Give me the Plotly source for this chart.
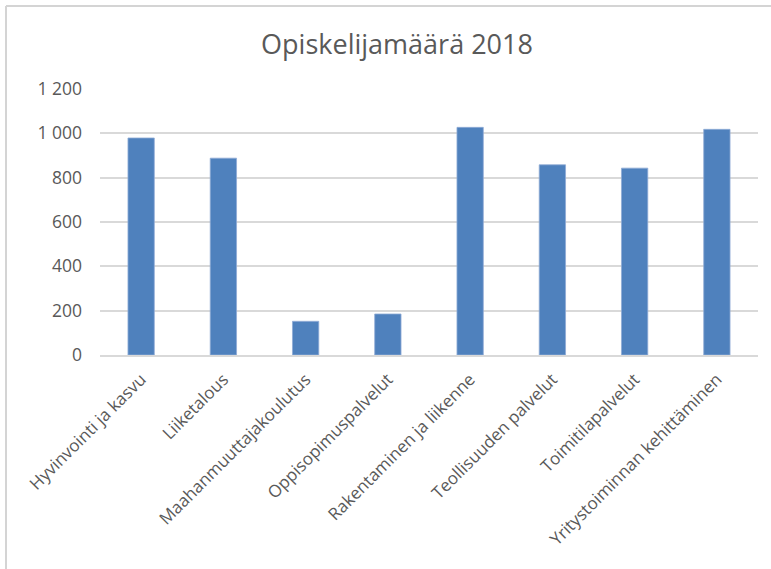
import plotly.graph_objects as go

categories = [
    "Hyvinvointi ja kasvu",
    "Liiketalous",
    "Maahanmuuttajakoulutus",
    "Oppisopimuspalvelut",
    "Rakentaminen ja liikenne",
    "Teollisuuden palvelut",
    "Toimitilapalvelut",
    "Yritystoiminnan kehittäminen",
]
values = [979, 888, 152, 185, 1027, 858, 843, 1018]
y_ticks = [0, 200, 400, 600, 800, 1000, 1200]
title_text = "Opiskelijamäärä 2018"

W, H = 771, 569
L, R, T, B = 100, 13, 89, 214
pw, ph = W - L - R, H - T - B

fig = go.Figure()
fig.add_trace(go.Bar(
    x=categories, y=values,
    marker=dict(color="#4f81bd", line=dict(color="#8fabd6", width=0.8)),
    hoverinfo="x+y",
))

font_family = "Open Sans, Liberation Sans, sans-serif"
fig.update_layout(
    width=W, height=H,
    margin=dict(l=L, r=R, t=T, b=B),
    paper_bgcolor="white", plot_bgcolor="white",
    separators=", ",
    bargap=0.68,
    showlegend=False,
    font=dict(family=font_family, color="#595959"),
    title=dict(text=title_text, x=397 / W, xref="container", xanchor="center",
               y=1 - 45 / H, yref="container", yanchor="middle",
               font=dict(size=27, color="#595959", family=font_family)),
    xaxis=dict(showgrid=False, tickangle=-45, ticks="", showline=True,
               linecolor="#d9d9d9", linewidth=1.5,
               tickfont=dict(size=17, color="#595959"),
               ticklabelstandoff=6),
    yaxis=dict(range=[0, 1200], tickvals=y_ticks, tickformat=",d",
               showgrid=True, gridcolor="#d9d9d9", gridwidth=1.5,
               zeroline=False, showline=False, ticks="",
               tickfont=dict(size=17.5, color="#595959"),
               ticklabelstandoff=17),
)

# outer chart frame (cropped: only top and left edges visible)
fx0 = (6 - L) / pw
fx1 = (W + 20 - L) / pw
fy1 = 1 + (T - 6) / ph
fy0 = -(B + 20) / ph
frame = dict(color="#d4d4d4", width=2)
fig.add_shape(type="line", xref="paper", yref="paper", x0=fx0, x1=fx1, y0=fy1, y1=fy1, line=frame)
fig.add_shape(type="line", xref="paper", yref="paper", x0=fx0, x1=fx0, y0=fy0, y1=fy1, line=frame)

fig.write_html("out.html", config={"displayModeBar": False},
               post_script="document.body.style.margin='0';document.body.style.overflow='hidden';")
